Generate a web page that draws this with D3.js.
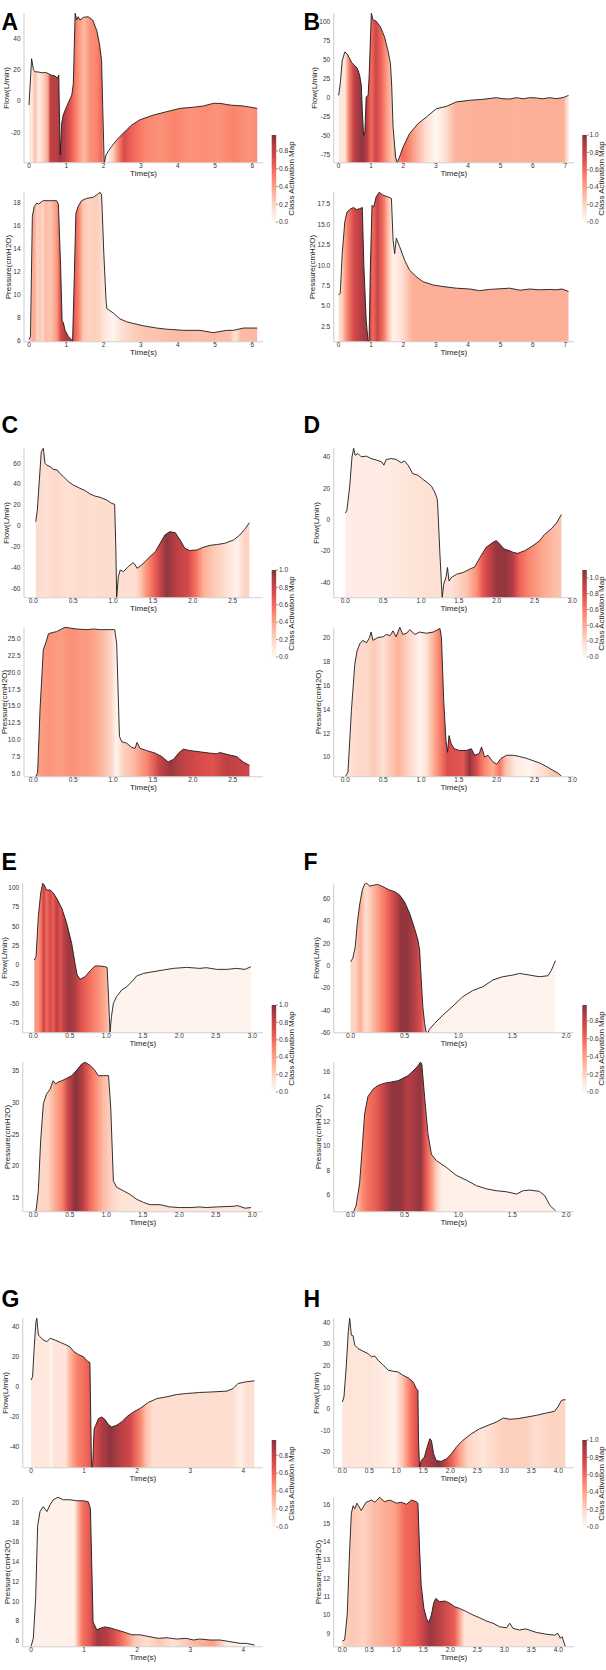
<!DOCTYPE html>
<html><head><meta charset="utf-8">
<script src="https://cdn.jsdelivr.net/npm/d3@7"></script>
<style>body{margin:0;background:#fff}svg{display:block}text{font-family:"Liberation Sans",Arial,sans-serif}</style>
</head><body><svg id="c" width="606" height="1670"></svg>
<script>
// ---------- data: [time(s), value] ----------
const aFlow=[[0,-2.6],[0.07,27],[0.12,20],[0.16,18.7],[0.25,18.5],[0.35,18],[0.45,18.2],[0.52,17.5],[0.6,16.5],[0.7,16],[0.76,14.5],[0.8,16.6],[0.81,2],[0.84,-34.5],[0.88,-14],[0.92,-9],[1.01,-3.6],[1.15,3.8],[1.19,11],[1.24,56],[1.28,51.7],[1.32,53.8],[1.37,51.7],[1.46,53.4],[1.59,53.8],[1.71,51.7],[1.82,45],[1.89,36.8],[1.95,26],[1.98,-3.6],[2.02,-39.4],[2.07,-34.5],[2.13,-32],[2.22,-29],[2.35,-25],[2.53,-20.6],[2.76,-15.3],[2.98,-12],[3.34,-9],[3.7,-6.8],[4.06,-4.7],[4.41,-4],[4.68,-3.2],[4.95,-1.5],[5.13,-1.5],[5.4,-2.6],[5.76,-3.2],[6.13,-4.7]];
const aPress=[[0,6.1],[0.04,6.35],[0.09,16.8],[0.14,17.7],[0.21,18],[0.25,17.9],[0.38,18.2],[0.56,18.2],[0.74,18.2],[0.79,17.9],[0.85,12.4],[0.89,7.65],[0.92,7.6],[0.97,6.9],[1.06,6.35],[1.15,6.05],[1.17,5.91],[1.21,10.7],[1.26,17.1],[1.32,17.7],[1.41,18.2],[1.55,18.4],[1.73,18.5],[1.84,18.75],[1.91,18.93],[1.95,18.7],[2.01,13.6],[2.07,9.5],[2.09,8.8],[2.27,8.4],[2.44,7.9],[2.62,7.65],[2.8,7.5],[3.07,7.3],[3.43,7.1],[3.7,7.0],[4.15,6.9],[4.59,6.9],[4.95,6.7],[5.31,6.9],[5.49,6.9],[5.76,7.1],[6.13,7.1]];
const aCamFlow=[[0,0.1],[0.08,0.1],[0.16,0.28],[0.26,0.08],[0.4,0.22],[0.51,0.38],[0.57,0.82],[0.77,0.85],[0.83,0.92],[0.95,0.85],[1.08,0.7],[1.2,0.58],[1.32,0.45],[1.48,0.3],[1.64,0.45],[1.82,0.5],[1.95,0.6],[2.08,0.03],[2.25,0.2],[2.4,0.5],[2.55,0.72],[2.8,0.6],[3.1,0.5],[3.5,0.45],[3.9,0.5],[4.3,0.45],[4.7,0.47],[5.1,0.45],[5.5,0.5],[5.9,0.45],[6.13,0.47]];
const aCamPress=[[0,0.2],[0.13,0.38],[0.22,0.2],[0.3,0.25],[0.36,0.18],[0.45,0.3],[0.55,0.25],[0.65,0.32],[0.76,0.45],[0.84,0.7],[0.95,0.85],[1.1,0.88],[1.22,0.65],[1.34,0.5],[1.45,0.25],[1.6,0.2],[1.75,0.22],[1.88,0.2],[2.05,0.1],[2.25,0.02],[2.5,0.15],[3.0,0.25],[3.5,0.27],[4.0,0.3],[4.5,0.28],[5.0,0.3],[5.4,0.28],[5.53,0.1],[5.7,0.3],[6.13,0.3]];

const bFlow=[[0,3],[0.05,18.5],[0.11,49],[0.19,60.4],[0.26,58],[0.34,51.6],[0.41,45.9],[0.49,42.8],[0.58,38.4],[0.65,29.5],[0.7,16.3],[0.73,-16.8],[0.77,-49.8],[0.81,-45],[0.85,0.9],[0.91,3],[0.94,27],[1.01,111.5],[1.06,103],[1.16,101],[1.29,93.5],[1.42,80],[1.52,62.6],[1.6,45],[1.64,14],[1.68,-38.8],[1.76,-78.5],[1.81,-86],[1.88,-78.5],[1.99,-65.3],[2.19,-47.6],[2.45,-34.4],[2.71,-25.6],[3.02,-14.6],[3.33,-11.5],[3.63,-5.7],[4.05,-3.5],[4.46,-2.2],[4.87,0],[5.08,-1.5],[5.28,-1.8],[5.49,0],[5.7,-1.5],[5.9,0],[6.1,-0.4],[6.3,-1.5],[6.52,0],[6.72,-1.3],[6.93,0],[7.1,3]];
const bPress=[[0,6.36],[0.05,6.6],[0.11,11.4],[0.19,15.3],[0.26,16.5],[0.36,16.85],[0.46,17.05],[0.55,16.8],[0.65,16.9],[0.73,17.05],[0.78,9.8],[0.85,3.3],[0.91,0.67],[0.94,0.9],[0.98,9.8],[1.03,17.3],[1.08,17.1],[1.16,18.35],[1.25,18.9],[1.37,18.55],[1.52,18.35],[1.63,18.15],[1.68,13.1],[1.73,11.4],[1.78,13.3],[1.88,12.3],[2.04,10.6],[2.19,9.4],[2.4,8.6],[2.6,8.0],[2.91,7.6],[3.22,7.4],[3.63,7.2],[4.05,7.1],[4.35,6.9],[4.66,7.05],[5.28,7.2],[5.6,6.95],[5.9,7.1],[6.2,7.0],[6.52,7.05],[6.72,7.0],[6.9,7.1],[7.1,6.8]];
const bCamFlow=[[0,0.1],[0.2,0.12],[0.31,0.5],[0.47,0.82],[0.65,0.95],[0.75,0.97],[0.88,0.85],[1.0,0.6],[1.15,0.78],[1.34,0.6],[1.5,0.4],[1.66,0.25],[1.85,0.45],[1.97,0.6],[2.1,0.55],[2.4,0.35],[2.7,0.15],[3.0,0.0],[3.3,0.15],[3.6,0.33],[4.5,0.35],[5.5,0.34],[6.5,0.35],[6.95,0.35],[7.05,0.15],[7.1,0.15]];
const bCamPress=[[0,0.15],[0.1,0.2],[0.25,0.5],[0.47,0.75],[0.65,0.85],[0.83,0.92],[0.96,0.8],[1.06,0.6],[1.2,0.8],[1.4,0.55],[1.52,0.3],[1.68,0.03],[1.95,0.15],[2.2,0.3],[2.3,0.35],[7.1,0.35]];

const cFlow=[[0.03,4],[0.05,15.2],[0.084,53.6],[0.1,71.2],[0.125,74.4],[0.146,60],[0.167,58.4],[0.21,56.8],[0.25,54.2],[0.3,53.6],[0.33,50.4],[0.376,47.2],[0.44,42.4],[0.5,39.2],[0.585,36],[0.65,33.8],[0.71,30.6],[0.77,28.6],[0.836,27.4],[0.92,24.8],[0.98,21.6],[1.02,20.6],[1.035,-23.2],[1.045,-69],[1.066,-48.8],[1.09,-42.4],[1.13,-44],[1.19,-39.2],[1.25,-35.4],[1.27,-36.6],[1.3,-40.8],[1.36,-37.6],[1.44,-31.2],[1.53,-24.8],[1.59,-16.8],[1.65,-8.8],[1.71,-5.6],[1.78,-6.6],[1.84,-13.6],[1.9,-21.6],[1.96,-23.8],[2.05,-23.2],[2.13,-20.6],[2.22,-18.7],[2.3,-18],[2.4,-16.8],[2.51,-13.6],[2.59,-8.8],[2.65,-3.4],[2.71,3]];
const cPress=[[0.03,4.5],[0.054,5.1],[0.084,14.5],[0.125,23.4],[0.155,24.4],[0.19,25.8],[0.25,26.0],[0.29,26.1],[0.355,26.5],[0.4,26.75],[0.48,26.6],[0.54,26.5],[0.67,26.4],[0.75,26.5],[0.84,26.4],[1.02,26.4],[1.045,24.4],[1.08,10.5],[1.11,9.7],[1.17,9.5],[1.23,8.9],[1.275,8.7],[1.3,9.6],[1.34,8.7],[1.42,8.4],[1.53,8.0],[1.61,7.5],[1.69,6.7],[1.76,7.1],[1.82,8.0],[1.88,8.6],[1.96,8.4],[2.09,8.2],[2.22,8.0],[2.3,7.9],[2.34,8.1],[2.47,7.7],[2.55,7.5],[2.63,6.7],[2.71,6.2]];
const cCamFlow=[[0.03,0.18],[0.15,0.14],[0.3,0.18],[0.45,0.14],[0.6,0.17],[0.75,0.15],[0.9,0.17],[1.1,0.15],[1.28,0.15],[1.34,0.25],[1.42,0.45],[1.5,0.6],[1.59,0.8],[1.67,0.97],[1.8,0.85],[1.94,0.75],[2.05,0.55],[2.13,0.35],[2.25,0.25],[2.42,0.15],[2.55,0.04],[2.65,0.2],[2.72,0.2]];
const cCamPress=[[0.03,0.4],[0.2,0.45],[0.35,0.42],[0.5,0.47],[0.6,0.43],[0.72,0.42],[0.84,0.33],[0.97,0.2],[1.045,0.02],[1.12,0.2],[1.25,0.3],[1.42,0.5],[1.58,0.8],[1.72,0.95],[1.86,0.85],[2.05,0.75],[2.25,0.7],[2.42,0.85],[2.6,0.8],[2.72,0.78]];

const dFlow=[[0,4.2],[0.02,5.9],[0.057,20.8],[0.088,40],[0.11,45.4],[0.13,41],[0.167,42.1],[0.21,40],[0.28,40.4],[0.34,38.9],[0.41,37.9],[0.48,36.8],[0.51,34.7],[0.54,38.3],[0.61,38.9],[0.67,38.3],[0.74,36.2],[0.78,37.4],[0.83,34.7],[0.89,29.3],[0.96,28.3],[1.03,25.5],[1.09,23.4],[1.14,21.2],[1.18,17.6],[1.21,14],[1.22,10.1],[1.25,-21.9],[1.27,-41],[1.28,-49.6],[1.3,-41],[1.33,-36.8],[1.35,-30.4],[1.37,-39],[1.4,-36.8],[1.47,-34.7],[1.555,-33.6],[1.64,-31.5],[1.71,-30],[1.78,-24],[1.86,-17.6],[1.95,-14.4],[1.995,-13.3],[2.04,-15.5],[2.1,-18.7],[2.17,-19.7],[2.22,-20.8],[2.28,-21.4],[2.37,-19.7],[2.48,-16.5],[2.57,-13.3],[2.63,-9.5],[2.72,-5.9],[2.79,-2.2],[2.855,3.3]];
const dPress=[[0,8.35],[0.035,8.75],[0.08,13.9],[0.125,17.8],[0.154,18.9],[0.19,19.5],[0.23,19.8],[0.28,19.6],[0.32,20.05],[0.34,20.5],[0.365,19.8],[0.43,20.05],[0.5,20.1],[0.54,20.3],[0.59,20.2],[0.63,20.6],[0.67,20.1],[0.72,20.9],[0.76,20.3],[0.81,20.4],[0.85,20.7],[0.92,20.3],[0.98,20.5],[1.07,20.4],[1.16,20.5],[1.25,20.8],[1.27,20.05],[1.3,14.75],[1.33,11.4],[1.35,10.4],[1.37,11.8],[1.4,11.1],[1.44,10.7],[1.51,10.55],[1.6,10.55],[1.665,10.7],[1.71,10.15],[1.77,10.3],[1.8,10.85],[1.84,10.0],[1.885,10.15],[1.95,9.6],[2.0,9.4],[2.06,9.9],[2.13,10.15],[2.22,10.15],[2.3,10.05],[2.39,9.9],[2.48,9.7],[2.57,9.5],[2.66,9.2],[2.74,8.9],[2.81,8.66],[2.855,8.4]];
const dCamFlow=[[0,0.08],[0.5,0.08],[0.75,0.12],[1.1,0.16],[1.4,0.15],[1.6,0.3],[1.73,0.5],[1.82,0.75],[1.9,0.9],[2.0,1.05],[2.12,1.07],[2.22,0.95],[2.3,0.7],[2.43,0.55],[2.6,0.42],[2.78,0.32],[2.855,0.3]];
const dCamPress=[[0,0.1],[0.15,0.2],[0.28,0.2],[0.38,0.27],[0.5,0.15],[0.58,0.25],[0.7,0.37],[0.85,0.2],[0.98,0.04],[1.07,0.15],[1.15,0.35],[1.25,0.58],[1.35,0.8],[1.48,0.77],[1.56,0.75],[1.64,1.07],[1.72,0.85],[1.84,0.55],[1.95,0.38],[2.04,0.62],[2.12,0.3],[2.25,0.1],[2.43,0.03],[2.6,0.15],[2.78,0.32],[2.855,0.32]];

const eFlow=[[0.014,6.2],[0.037,10.5],[0.068,62.4],[0.1,92.7],[0.128,105.7],[0.15,103.5],[0.18,97],[0.23,97],[0.27,93.5],[0.32,86.2],[0.39,73.2],[0.457,53.8],[0.525,27.8],[0.57,1.9],[0.6,-13.2],[0.64,-18.8],[0.71,-15.3],[0.78,-7.5],[0.845,-1.5],[0.91,-1.5],[0.98,-2.4],[1.01,-3.3],[1.03,-41.3],[1.05,-88],[1.07,-67],[1.096,-50],[1.14,-41.3],[1.21,-32.7],[1.28,-28.3],[1.35,-21.8],[1.415,-14.5],[1.51,-11.1],[1.64,-8.9],[1.78,-6.7],[1.92,-4.6],[2.1,-3.3],[2.28,-4.6],[2.37,-3.7],[2.51,-5.9],[2.65,-5.9],[2.785,-4.6],[2.9,-5.9],[2.98,-2.4]];
const ePress=[[0.01,12.85],[0.037,13],[0.068,16.15],[0.1,24],[0.137,29.8],[0.18,31.3],[0.23,32.1],[0.27,33.4],[0.306,32.9],[0.34,33.2],[0.39,33.4],[0.457,33.8],[0.525,34.2],[0.59,35],[0.66,36],[0.71,36.3],[0.78,35.8],[0.845,35],[0.89,34.2],[0.96,34.2],[1.03,34.2],[1.06,29.2],[1.096,17.7],[1.14,16.7],[1.23,16.15],[1.32,15.6],[1.415,14.8],[1.51,14.3],[1.6,13.95],[1.735,13.95],[1.87,13.6],[2.0,13.5],[2.15,13.5],[2.28,13.6],[2.37,13.5],[2.51,13.6],[2.74,13.7],[2.8,13.8],[2.9,13.4],[2.98,13.5]];
const eCamFlow=[[0.014,0.45],[0.07,0.45],[0.11,0.6],[0.145,0.8],[0.18,0.6],[0.23,0.75],[0.27,0.65],[0.32,0.85],[0.37,0.7],[0.42,0.85],[0.49,0.95],[0.56,0.9],[0.66,0.7],[0.8,0.55],[0.95,0.4],[1.02,0.3],[1.06,0.03],[2.98,0.03]];
const eCamPress=[[0,0.18],[0.2,0.2],[0.29,0.35],[0.39,0.5],[0.48,0.8],[0.58,1.0],[0.68,0.85],[0.78,0.6],[0.87,0.45],[0.96,0.3],[1.07,0.2],[1.2,0.13],[2.98,0.12]];

const fFlow=[[0,3.6],[0.02,6.6],[0.043,17],[0.062,37.9],[0.083,54.3],[0.108,67.8],[0.13,73.1],[0.15,73.8],[0.176,71.3],[0.22,72.2],[0.25,72.8],[0.3,70.7],[0.36,67.8],[0.41,66.3],[0.454,63.3],[0.5,57.3],[0.547,46.9],[0.593,33.4],[0.624,23],[0.64,14],[0.655,-12.8],[0.67,-36.7],[0.686,-51.6],[0.7,-59.1],[0.717,-60],[0.73,-57],[0.78,-51.6],[0.856,-44.2],[0.95,-36.1],[1.04,-27.8],[1.13,-22.4],[1.227,-18.8],[1.32,-12.8],[1.41,-9.9],[1.505,-8.4],[1.567,-6.9],[1.66,-8.4],[1.75,-9.9],[1.83,-9],[1.86,-4.5],[1.9,4.5]];
const fPress=[[0,4.64],[0.028,4.67],[0.05,5.1],[0.083,6.9],[0.108,9.9],[0.13,12.6],[0.16,14],[0.207,14.6],[0.25,14.9],[0.315,15.1],[0.38,15.2],[0.44,15.3],[0.485,15.5],[0.53,15.7],[0.58,16.1],[0.624,16.5],[0.646,16.8],[0.66,16.7],[0.686,14],[0.717,11],[0.75,9.3],[0.795,8.8],[0.888,8.25],[0.98,7.6],[1.074,7.2],[1.167,6.76],[1.26,6.5],[1.35,6.35],[1.44,6.27],[1.54,6.08],[1.6,6.35],[1.66,6.4],[1.75,6.3],[1.8,5.95],[1.85,5.13],[1.9,4.72]];
const fCamFlow=[[0,0.2],[0.04,0.2],[0.09,0.35],[0.14,0.15],[0.19,0.25],[0.25,0.4],[0.32,0.55],[0.4,0.75],[0.47,0.95],[0.53,0.95],[0.59,0.85],[0.655,0.7],[0.72,0.15],[0.78,0.03],[1.9,0.03]];
const fCamPress=[[0,0.2],[0.04,0.2],[0.1,0.45],[0.15,0.55],[0.22,0.62],[0.31,0.8],[0.38,0.95],[0.47,0.95],[0.52,0.85],[0.59,0.9],[0.65,0.95],[0.69,0.7],[0.75,0.45],[0.8,0.2],[0.85,0.05],[1.9,0.05]];

const gFlow=[[0,4.4],[0.03,6.6],[0.063,27.9],[0.094,43.6],[0.11,45.8],[0.14,34.6],[0.17,33.5],[0.23,31.3],[0.3,30.1],[0.36,32.4],[0.45,31.3],[0.55,29.7],[0.64,28.3],[0.73,26.8],[0.81,23.4],[0.89,21.6],[0.99,20],[1.06,17.1],[1.11,16.2],[1.14,-52.8],[1.16,-54.3],[1.19,-28.1],[1.22,-25.9],[1.27,-21.4],[1.33,-20.3],[1.39,-21.8],[1.46,-25.4],[1.52,-27],[1.61,-25.9],[1.71,-23.6],[1.8,-20.3],[1.93,-16.9],[2.05,-14.7],[2.21,-10.6],[2.37,-8],[2.56,-6.8],[2.74,-5.3],[2.93,-4.6],[3.18,-3.9],[3.43,-3.5],[3.69,-3],[3.81,-1.2],[3.9,2.1],[4.06,3.3],[4.21,3.9]];
const gPress=[[0,5.39],[0.044,6.24],[0.088,10.3],[0.126,17.7],[0.17,19.1],[0.23,19.6],[0.3,19.1],[0.36,19.8],[0.42,20.3],[0.51,20.55],[0.61,20.3],[0.73,20.3],[0.86,20.2],[0.99,20.2],[1.08,20.1],[1.12,19.4],[1.17,7.9],[1.24,7.1],[1.3,7.25],[1.39,7.4],[1.49,7.3],[1.61,7.1],[1.74,6.9],[1.9,6.6],[2.05,6.6],[2.24,6.4],[2.4,6.24],[2.56,6.3],[2.74,6.17],[2.93,6.24],[3.06,6.07],[3.18,6.17],[3.37,6.07],[3.56,6.07],[3.75,5.9],[3.94,5.73],[4.06,5.73],[4.21,5.56]];
const gCamFlow=[[0,0.1],[0.33,0.1],[0.38,0.02],[0.43,0.12],[0.65,0.12],[0.73,0.3],[0.87,0.5],[1.05,0.6],[1.19,0.7],[1.33,0.85],[1.5,0.95],[1.66,0.85],[1.86,0.75],[2.05,0.5],[2.18,0.25],[2.3,0.15],[3.8,0.15],[3.95,0.05],[4.08,0.15],[4.21,0.15]];
const gCamPress=[[0,0.05],[0.82,0.05],[0.88,0.3],[0.97,0.55],[1.1,0.65],[1.25,0.9],[1.42,0.85],[1.58,0.7],[1.77,0.5],[1.95,0.25],[2.17,0.15],[2.43,0.25],[2.68,0.12],[3.05,0.3],[3.44,0.4],[3.68,0.1],[3.85,0.05],[4.21,0.05]];

const hFlow=[[0,3.2],[0.03,5.5],[0.074,20.2],[0.11,35.7],[0.136,41.9],[0.167,34.1],[0.2,33.8],[0.23,29.5],[0.29,27.9],[0.38,26.7],[0.475,25.6],[0.54,24.1],[0.6,24.5],[0.66,22.5],[0.75,20.5],[0.85,17.9],[0.94,17.4],[1.03,17.1],[1.12,15.6],[1.22,14.3],[1.31,12.5],[1.37,9.4],[1.4,8.6],[1.41,-13.8],[1.43,-27.2],[1.46,-23.9],[1.52,-22.3],[1.57,-17.7],[1.62,-13.8],[1.65,-14.6],[1.69,-20.8],[1.74,-23.9],[1.83,-24.3],[1.93,-23.1],[2.02,-20.8],[2.11,-17.7],[2.23,-14.6],[2.39,-11.5],[2.54,-9.2],[2.7,-7.6],[2.85,-6.1],[2.98,-4.2],[3.1,-4.8],[3.25,-4.5],[3.41,-3.8],[3.59,-3],[3.78,-1.9],[3.93,-1.1],[3.99,0.9],[4.06,4],[4.13,4.3]];
const hPress=[[0,8.58],[0.043,8.64],[0.09,10],[0.136,13.6],[0.167,15.55],[0.2,15.96],[0.23,15.8],[0.27,16.1],[0.35,15.7],[0.44,16.15],[0.54,16.27],[0.6,16.15],[0.69,16.42],[0.78,16.18],[0.88,16.27],[1.0,16.1],[1.09,16.15],[1.19,16.04],[1.28,16.27],[1.37,16.18],[1.4,16.1],[1.43,13.64],[1.46,11.64],[1.51,10.36],[1.56,9.8],[1.6,9.6],[1.65,10],[1.69,10.64],[1.73,10.9],[1.8,10.73],[1.9,10.76],[1.99,10.64],[2.08,10.45],[2.17,10.36],[2.3,10.18],[2.42,10],[2.54,9.85],[2.67,9.67],[2.79,9.55],[2.91,9.36],[3.04,9.3],[3.1,9.55],[3.16,9.27],[3.28,9.18],[3.4,9.24],[3.59,9.05],[3.78,8.95],[3.93,8.9],[3.99,9.0],[4.04,8.73],[4.07,8.82],[4.12,8.36],[4.13,8.27]];
const hCamFlow=[[0,0.12],[0.45,0.12],[0.7,0.1],[0.97,0.03],[1.11,0.25],[1.2,0.45],[1.29,0.6],[1.37,0.7],[1.47,0.85],[1.61,0.9],[1.78,1.0],[1.92,0.8],[2.05,0.6],[2.17,0.4],[2.32,0.2],[2.6,0.12],[3.0,0.22],[3.4,0.22],[3.6,0.15],[3.85,0.2],[4.13,0.2]];
const hCamPress=[[0,0.2],[0.2,0.25],[0.38,0.2],[0.6,0.3],[0.78,0.35],[0.97,0.4],[1.15,0.6],[1.34,0.65],[1.5,0.8],[1.62,0.95],[1.8,0.85],[2.08,0.65],[2.2,0.3],[2.26,0.12],[4.13,0.12]];

// ---------- axis limits / ticks ----------
const aXlim=[-0.134,6.285], bXlim=[-0.153,7.269], cXlim=[-0.117,2.88], dXlim=[-0.154,3.022];
const eXlim=[-0.146,3.146], fXlim=[-0.157,2.072], gXlim=[-0.156,4.371], hXlim=[-0.16,4.29];
const aXTicks=[0,1,2,3,4,5,6], bXTicks=[0,1,2,3,4,5,6,7], cXTicks=[0,0.5,1,1.5,2,2.5], dXTicks=[0,0.5,1,1.5,2,2.5,3];
const eXTicks=[0,0.5,1,1.5,2,2.5,3], fXTicks=[0,0.5,1,1.5,2], gXTicks=[0,1,2,3,4], hXTicks=[0,0.5,1,1.5,2,2.5,3,3.5,4];
const aFlowTicks=[-20,0,20,40], aPressTicks=[6,8,10,12,14,16,18];
const bFlowTicks=[-75,-50,-25,0,25,50,75,100], bPressTicks=[2.5,5,7.5,10,12.5,15,17.5];
const cFlowTicks=[-60,-40,-20,0,20,40,60], cPressTicks=[5,7.5,10,12.5,15,17.5,20,22.5,25];
const dFlowTicks=[-40,-20,0,20,40], dPressTicks=[10,12,14,16,18,20];
const eFlowTicks=[-75,-50,-25,0,25,50,75,100], ePressTicks=[15,20,25,30,35];
const fFlowTicks=[-60,-40,-20,0,20,40,60], fPressTicks=[6,8,10,12,14,16];
const gFlowTicks=[-40,-20,0,20,40], gPressTicks=[6,8,10,12,14,16,18,20];
const hFlowTicks=[-20,-10,0,10,20,30,40], hPressTicks=[9,10,11,12,13,14,15,16];
const cbTicks=[0,0.2,0.4,0.6,0.8,1.0];
const cbMaxes=[0.98,1.0,1.0,1.1,1.0,0.98,0.97,1.0];
const panelIds=["A","B","C","D","E","F","G","H"];

const panels=[
 {flow:aFlow,press:aPress,camF:aCamFlow,camP:aCamPress,xlim:aXlim,xt:aXTicks,ft:aFlowTicks,pt:aPressTicks},
 {flow:bFlow,press:bPress,camF:bCamFlow,camP:bCamPress,xlim:bXlim,xt:bXTicks,ft:bFlowTicks,pt:bPressTicks},
 {flow:cFlow,press:cPress,camF:cCamFlow,camP:cCamPress,xlim:cXlim,xt:cXTicks,ft:cFlowTicks,pt:cPressTicks},
 {flow:dFlow,press:dPress,camF:dCamFlow,camP:dCamPress,xlim:dXlim,xt:dXTicks,ft:dFlowTicks,pt:dPressTicks},
 {flow:eFlow,press:ePress,camF:eCamFlow,camP:eCamPress,xlim:eXlim,xt:eXTicks,ft:eFlowTicks,pt:ePressTicks},
 {flow:fFlow,press:fPress,camF:fCamFlow,camP:fCamPress,xlim:fXlim,xt:fXTicks,ft:fFlowTicks,pt:fPressTicks},
 {flow:gFlow,press:gPress,camF:gCamFlow,camP:gCamPress,xlim:gXlim,xt:gXTicks,ft:gFlowTicks,pt:gPressTicks},
 {flow:hFlow,press:hPress,camF:hCamFlow,camP:hCamPress,xlim:hXlim,xt:hXTicks,ft:hFlowTicks,pt:hPressTicks}
];

// ---------- layout ----------
const colX=[0,303], rowY=[0,435,870,1305], letterY=[30,433,870,1307];
const axisLeft=[24,30.7,24,30.7,22.7,30.7,22.7,30.7];
const axisRightByCol=[263,271];
const cbXByCol=[271.7,279.3];
const subs=[{top:13.3,bottom:162.7,label:"Flow(L/min)"},{top:192.3,bottom:341.7,label:"Pressure(cmH2O)"}];
const TICK_FS=6.5, LABEL_FS=8, SPINE="#d0d0d0", TXT="#333";

const svg=d3.select("#c");
const defs=svg.append("defs");
const fmtFor=ticks=>ticks.some(v=>Math.abs(v-Math.round(v))>1e-9)?d3.format(".1f"):d3.format("d");

panels.forEach((p,i)=>{
  const col=i%2,row=Math.floor(i/2), id=panelIds[i], cbMax=cbMaxes[i];
  const g=svg.append("g").attr("transform",`translate(${colX[col]},${rowY[row]})`);
  const left=axisLeft[i], right=axisRightByCol[col];
  const x=d3.scaleLinear().domain(p.xlim).range([left,right]);
  const color=c=>d3.interpolateReds(Math.max(0,Math.min(1,c/cbMax)));
  [[p.flow,p.camF,p.ft],[p.press,p.camP,p.pt]].forEach(([data,cam,yt],k)=>{
    const s=subs[k];
    const y=d3.scaleLinear().domain(d3.extent(data,d=>d[1])).range([s.bottom,s.top]);
    const gid=`grad${id}${k}`;
    const x1=x(cam[0][0]), x2=x(cam[cam.length-1][0]);
    const grad=defs.append("linearGradient").attr("id",gid).attr("gradientUnits","userSpaceOnUse")
      .attr("x1",x1).attr("x2",x2).attr("y1",0).attr("y2",0);
    grad.selectAll("stop").data(cam).join("stop")
      .attr("offset",d=>(x(d[0])-x1)/(x2-x1)).attr("stop-color",d=>color(d[1]));
    const area=d3.area().x(d=>x(d[0])).y0(s.bottom).y1(d=>y(d[1]));
    g.append("path").datum(data).attr("d",area).attr("fill",`url(#${gid})`).attr("fill-opacity",0.8);
    const line=d3.line().x(d=>x(d[0])).y(d=>y(d[1]));
    g.append("path").datum(data).attr("d",line).attr("fill","none").attr("stroke","#1a1a1a").attr("stroke-width",0.9).attr("stroke-linejoin","round");
    g.append("line").attr("x1",left).attr("x2",left).attr("y1",s.top).attr("y2",s.bottom).attr("stroke",SPINE).attr("stroke-width",1.1);
    g.append("line").attr("x1",left).attr("x2",right).attr("y1",s.bottom).attr("y2",s.bottom).attr("stroke",SPINE).attr("stroke-width",1.1);
    const yf=fmtFor(yt);
    const ytx=g.append("g").selectAll("text").data(yt).join("text")
      .attr("x",left-3.5).attr("y",d=>y(d)).attr("dy","0.35em").attr("text-anchor","end")
      .attr("font-size",TICK_FS).attr("fill",TXT).text(d=>yf(d).replace("−","-"));
    let maxW=0; ytx.each(function(){maxW=Math.max(maxW,this.getComputedTextLength());});
    const cx=Math.max(left-3.5-maxW-5,3.8);
    g.append("text").attr("transform",`translate(${cx+2.9},${(s.top+s.bottom)/2}) rotate(-90)`)
      .attr("text-anchor","middle").attr("font-size",LABEL_FS).attr("fill","#222").text(s.label);
    const xf=fmtFor(p.xt);
    g.append("g").selectAll("text").data(p.xt).join("text")
      .attr("x",d=>x(d)).attr("y",s.bottom+5.6).attr("text-anchor","middle")
      .attr("font-size",TICK_FS).attr("fill",TXT).text(d=>xf(d));
    g.append("text").attr("x",(left+right)/2).attr("y",s.bottom+13.6).attr("text-anchor","middle")
      .attr("font-size",LABEL_FS).attr("fill","#222").text("Time(s)");
  });
  const cbx=cbXByCol[col], cbTop=135, cbBot=222, cbW=4.5;
  const cgid=`cb${id}`;
  const cg=defs.append("linearGradient").attr("id",cgid).attr("x1",0).attr("x2",0).attr("y1",1).attr("y2",0);
  cg.selectAll("stop").data(d3.range(0,1.0001,0.05)).join("stop")
    .attr("offset",d=>d).attr("stop-color",d=>d3.interpolateReds(d));
  g.append("rect").attr("x",cbx).attr("y",cbTop).attr("width",cbW).attr("height",cbBot-cbTop)
    .attr("fill",`url(#${cgid})`).attr("fill-opacity",0.8);
  const cy=d3.scaleLinear().domain([0,cbMax]).range([cbBot,cbTop]);
  const ct=cbTicks.filter(v=>v<=cbMax+1e-9);
  g.append("g").selectAll("line").data(ct).join("line")
    .attr("x1",cbx+cbW).attr("x2",cbx+cbW+2).attr("y1",d=>cy(d)).attr("y2",d=>cy(d)).attr("stroke","#444").attr("stroke-width",0.6);
  g.append("g").selectAll("text").data(ct).join("text")
    .attr("x",cbx+cbW+2.8).attr("y",d=>cy(d)).attr("dy","0.35em").attr("font-size",TICK_FS).attr("fill",TXT)
    .text(d=>d3.format(".1f")(d));
  g.append("text").attr("transform",`translate(${cbx+22},${(cbTop+cbBot)/2}) rotate(-90)`)
    .attr("text-anchor","middle").attr("font-size",LABEL_FS).attr("fill","#222").text("Class Activation Map");
  svg.append("text").attr("x",colX[col]+(col?0.5:1.5)).attr("y",letterY[row])
    .attr("font-size",23).attr("font-weight","bold").attr("fill","#000").text(id);
});
</script></body></html>
